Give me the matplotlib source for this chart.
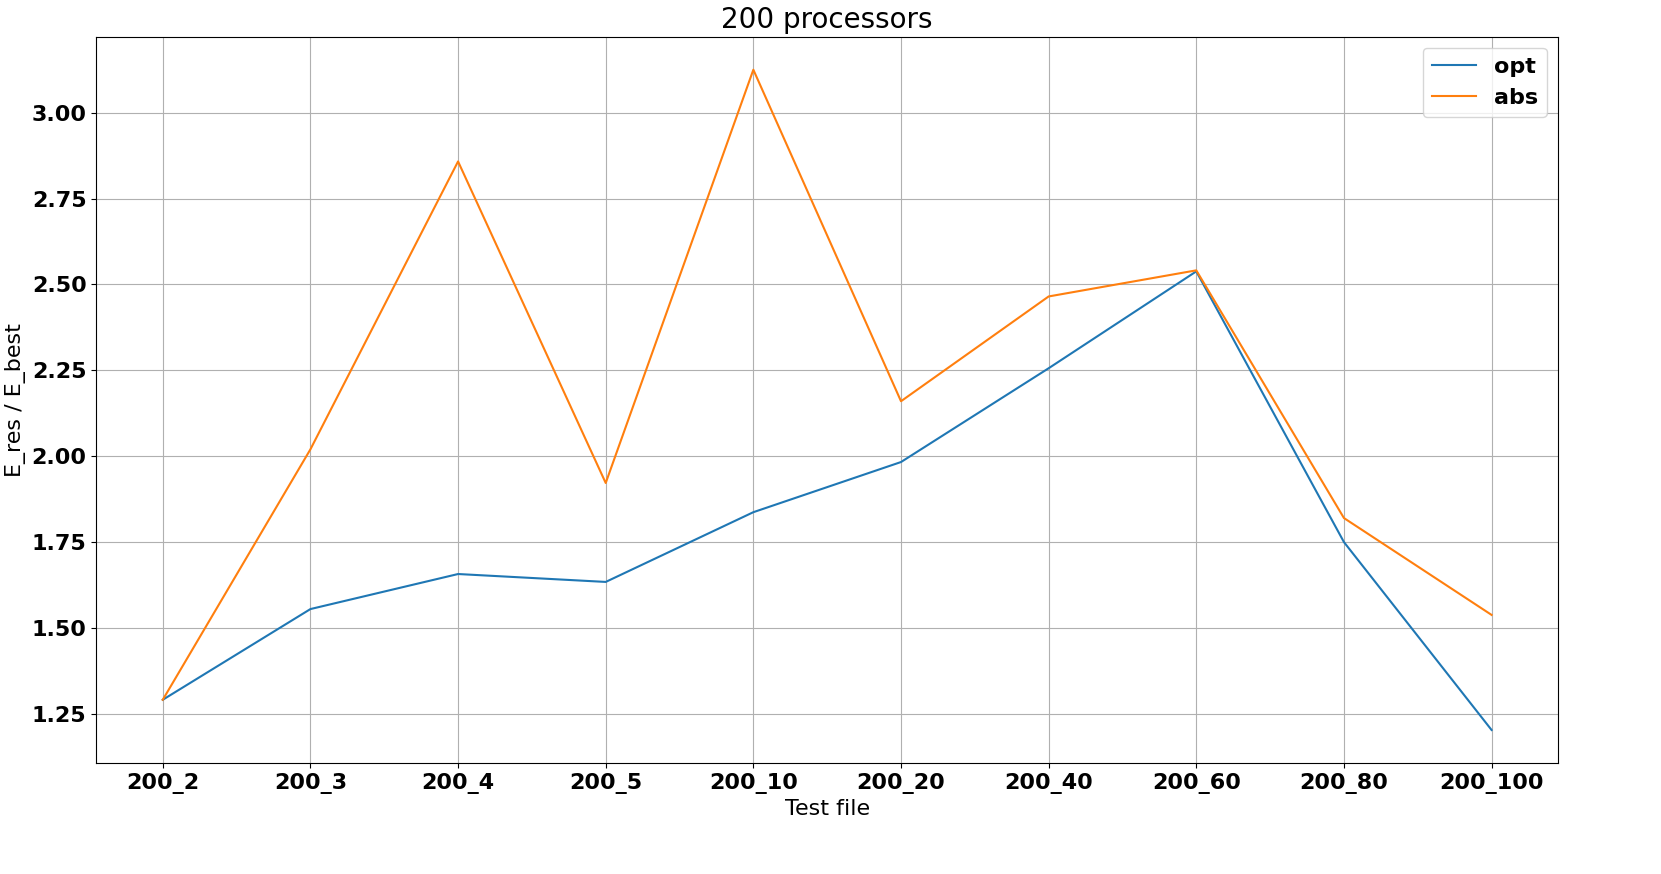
import matplotlib
matplotlib.use("Agg")
import matplotlib.pyplot as plt

files = ["200_2","200_3","200_4","200_5","200_10","200_20","200_40","200_60","200_80","200_100"]
opt = [1.291,1.555,1.657,1.634,1.837,1.983,2.256,2.538,1.750,1.203]
abs_ = [1.291,2.020,2.858,1.922,3.125,2.160,2.465,2.541,1.820,1.538]

fig, ax = plt.subplots(figsize=(16.61,8.74), dpi=100)
fig.subplots_adjust(left=0.058, right=0.937, top=0.958, bottom=0.127)
ax.plot(files, opt, label="opt", color="#1f77b4")
ax.plot(files, abs_, label="abs", color="#ff7f0e")
ax.grid(True)
ax.set_title("200 processors", fontsize=20)
ax.set_xlabel("Test file", fontsize=16)
ax.set_ylabel("E_res / E_best", fontsize=16)
for lab in ax.get_xticklabels()+ax.get_yticklabels():
    lab.set_fontsize(16); lab.set_fontweight("bold")
ax.legend(prop={"size":16,"weight":"bold"}, loc="upper right")
fig.subplots_adjust(right=0.938)
fig.savefig("out.png")
